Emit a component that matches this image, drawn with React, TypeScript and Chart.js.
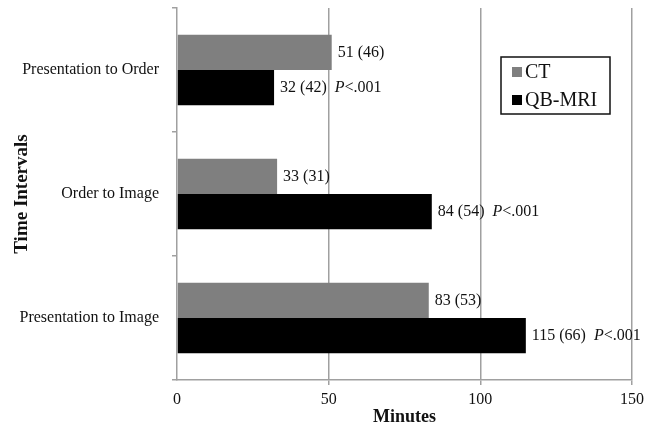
import React, { useEffect, useRef } from "react";
import { Chart, registerables } from "chart.js";

Chart.register(...registerables);

const categories = ["Presentation to Order", "Order to Image", "Presentation to Image"];
const seriesNames = ["CT", "QB-MRI"];
const ctMeans = [51, 33, 83];
const ctSDs = [46, 31, 53];
const mriMeans = [32, 84, 115];
const mriSDs = [42, 54, 66];
const pValues = ["<.001", "<.001", "<.001"];
const xTicks = [0, 50, 100, 150];

const SERIF = "'Liberation Serif', 'Times New Roman', serif";
const GRID = "#a0a0a0";
const CT_COLOR = "#7f7f7f";
const MRI_COLOR = "#000000";

const labelPlugin = {
  id: "valueLabels",
  afterDatasetsDraw(chart: any) {
    const ctx = chart.ctx;
    ctx.save();
    ctx.fillStyle = "#111";
    ctx.textBaseline = "middle";
    ctx.textAlign = "left";
    const sds = [ctSDs, mriSDs];
    chart.data.datasets.forEach((ds: any, i: number) => {
      const meta = chart.getDatasetMeta(i);
      meta.data.forEach((bar: any, j: number) => {
        const txt = `${ds.data[j]} (${sds[i][j]})`;
        ctx.font = `16px ${SERIF}`;
        const x = bar.x + 6;
        ctx.fillText(txt, x, bar.y);
        if (i === 1) {
          const w = ctx.measureText(txt).width;
          const px = x + w + 8;
          ctx.font = `italic 16px ${SERIF}`;
          ctx.fillText("P", px, bar.y);
          const pw = ctx.measureText("P").width;
          ctx.font = `16px ${SERIF}`;
          ctx.fillText(pValues[j], px + pw, bar.y);
        }
      });
    });
    ctx.restore();
  },
};

const legendPlugin = {
  id: "boxLegend",
  afterDraw(chart: any) {
    const ctx = chart.ctx;
    const { right, top } = chart.chartArea;
    const bx = right - 131;
    const by = top + 49;
    const bw = 109;
    const bh = 57;
    ctx.save();
    ctx.fillStyle = "#fff";
    ctx.fillRect(bx, by, bw, bh);
    ctx.strokeStyle = "#111";
    ctx.lineWidth = 1.5;
    ctx.strokeRect(bx, by, bw, bh);
    const colors = [CT_COLOR, MRI_COLOR];
    ctx.font = `20px ${SERIF}`;
    ctx.textBaseline = "middle";
    ctx.textAlign = "left";
    seriesNames.forEach((name, i) => {
      const cy = by + 15 + i * 28;
      ctx.fillStyle = colors[i];
      ctx.fillRect(bx + 11, cy - 5, 10, 10);
      ctx.fillStyle = "#111";
      ctx.fillText(name, bx + 24, cy + 1);
    });
    ctx.restore();
  },
};

export default function App() {
  const ref = useRef<HTMLCanvasElement | null>(null);
  useEffect(() => {
    if (!ref.current) return;
    const chart = new Chart(ref.current, {
      type: "bar",
      data: {
        labels: categories,
        datasets: [
          { label: seriesNames[0], data: ctMeans, backgroundColor: CT_COLOR, categoryPercentage: 0.57, barPercentage: 1 },
          { label: seriesNames[1], data: mriMeans, backgroundColor: MRI_COLOR, categoryPercentage: 0.57, barPercentage: 1 },
        ],
      },
      options: {
        indexAxis: "y",
        responsive: false,
        animation: false,
        layout: { padding: { top: 8, right: 24, left: 0, bottom: 0 } },
        plugins: { legend: { display: false }, tooltip: { enabled: false } },
        scales: {
          x: {
            min: 0,
            max: 150,
            afterBuildTicks: (scale: any) => {
              scale.ticks = xTicks.map((v) => ({ value: v }));
            },
            afterFit: (scale: any) => {
              scale.height = 45;
            },
            grid: {
              color: (c: any) => (c.tick && c.tick.value === 0 ? "rgba(0,0,0,0)" : GRID),
              lineWidth: 1.5,
              tickLength: 5,
              drawTicks: true,
            },
            border: { display: true, color: GRID, width: 1.5 },
            ticks: { font: { family: SERIF, size: 16 }, color: "#111", padding: 5 },
            title: {
              display: true,
              text: "Minutes",
              font: { family: SERIF, size: 18, weight: "bold", lineHeight: 0.8 },
              color: "#111",
              padding: { top: 0, bottom: 0 },
            },
          },
          y: {
            afterFit: (scale: any) => {
              scale.width = 177;
              scale.paddingTop = 0;
              scale.paddingBottom = 0;
            },
            grid: {
              offset: true,
              drawOnChartArea: false,
              drawTicks: true,
              tickLength: 5,
              color: GRID,
              lineWidth: 1.5,
            },
            border: { display: true, color: GRID, width: 1.5 },
            ticks: { font: { family: SERIF, size: 16 }, color: "#111", padding: 13 },
            title: {
              display: true,
              text: "Time Intervals",
              font: { family: SERIF, size: 19, weight: "bold", lineHeight: 1 },
              color: "#111",
              padding: { top: 13, bottom: 0 },
            },
          },
        },
      },
      plugins: [labelPlugin, legendPlugin],
    } as any);
    return () => chart.destroy();
  }, []);
  return (
    <canvas
      ref={ref}
      width={656}
      height={425}
      style={{ position: "fixed", left: 0, top: 0, display: "block", background: "#fff" }}
    />
  );
}
